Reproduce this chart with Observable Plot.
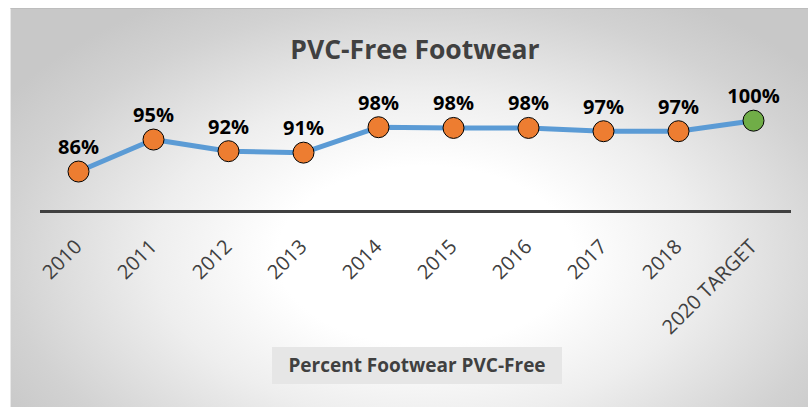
<!DOCTYPE html>
<html>
<head>
<meta charset="utf-8">
<script src="https://cdn.jsdelivr.net/npm/d3@7"></script>
<script src="https://cdn.jsdelivr.net/npm/@observablehq/plot@0.6"></script>
<style>
  html, body { margin: 0; padding: 0; background: #fff; }
  #wrap { position: relative; width: 808px; height: 407px; overflow: hidden; background: #fff; font-family: "Open Sans", sans-serif; }
  #panel { position: absolute; left: 10px; top: 8px; right: 0; bottom: 0;
    background: radial-gradient(ellipse 62% 75% at 52% 62%, #ffffff 0%, #ffffff 30%, #eeeeee 55%, #d2d2d2 85%, #c8c8c8 100%);
    border-top: 1px solid #bdbdbd; border-left: 1px solid #e8e8e8; }
  #title { position: absolute; left: 0; width: 830px; top: 31px; text-align: center; font-weight: bold; font-size: 26.5px; color: #404040; }
  #plot { position: absolute; left: 0; top: 0; }
  #legend { position: absolute; left: 272px; top: 347px; width: 290px; height: 37px; background: #e6e6e6; color: #404040;
    font-weight: bold; font-size: 19px; line-height: 37px; text-align: center; }
</style>
</head>
<body>
<div id="wrap">
  <div id="panel"></div>
  <div id="title"></div>
  <div id="plot"></div>
  <div id="legend"></div>
</div>
<script>
const titleText = "PVC-Free Footwear";
const seriesName = "Percent Footwear PVC-Free";
const categories = ["2010", "2011", "2012", "2013", "2014", "2015", "2016", "2017", "2018", "2020 TARGET"];
const values = [86, 94.8, 91.6, 91.2, 98.2, 98, 98, 97.1, 97.1, 100];
const kinds = ["actual", "actual", "actual", "actual", "actual", "actual", "actual", "actual", "actual", "target"];

const data = categories.map((c, i) => ({cat: c, value: values[i], kind: kinds[i]}));

document.getElementById("title").textContent = titleText;
document.getElementById("legend").textContent = seriesName;

const chart = Plot.plot({
  width: 808,
  height: 407,
  marginLeft: 40,
  marginRight: 17,
  marginTop: 102,
  marginBottom: 196,
  style: {background: "transparent", fontFamily: "Open Sans, sans-serif", overflow: "visible"},
  x: {type: "point", domain: categories, padding: 0.5, label: null},
  y: {domain: [75, 105], axis: null},
  marks: [
    Plot.ruleY([75], {stroke: "#404040", strokeWidth: 3}),
    Plot.axisX({tickSize: 0, tickRotate: -45, tickPadding: 32, fontSize: 20, fill: "#404040", label: null}),
    Plot.line(data, {x: "cat", y: "value", stroke: "#5B9BD5", strokeWidth: 5}),
    Plot.dot(data, {x: "cat", y: "value", r: 10.5, fill: d => d.kind === "target" ? "#70AD47" : "#ED7D31", stroke: "#000", strokeWidth: 1}),
    Plot.text(data, {x: "cat", y: "value", text: d => Math.round(d.value) + "%", dy: -24, fontSize: 20, fontWeight: "bold", fill: "#000"})
  ]
});
document.getElementById("plot").appendChild(chart);
</script>
</body>
</html>
